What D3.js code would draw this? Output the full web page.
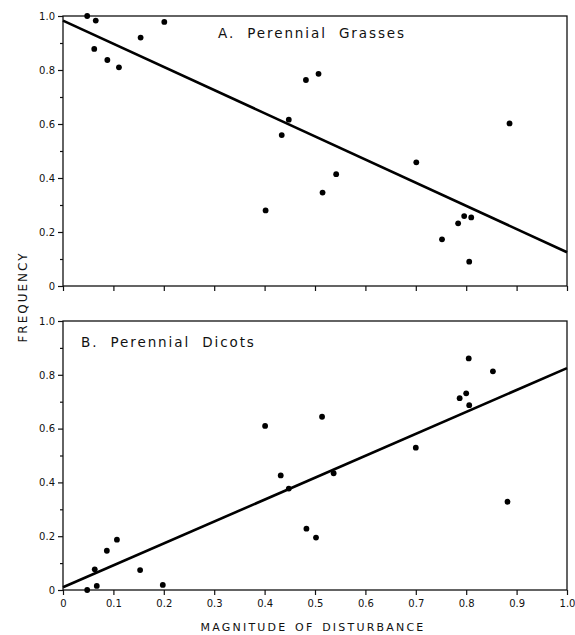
<!DOCTYPE html>
<html>
<head>
<meta charset="utf-8">
<script src="https://cdn.jsdelivr.net/npm/d3@7"></script>
<style>
  body { margin: 0; background: #fff; }
  text { font-family: "DejaVu Sans", sans-serif; fill: #111; }
</style>
</head>
<body>
<div id="chart"></div>
<script>
// magnitude of disturbance (x) and frequency (y)
const grassX = [0.048, 0.065, 0.062, 0.088, 0.111, 0.154, 0.201, 0.402, 0.434, 0.448, 0.482,
                0.507, 0.515, 0.542, 0.701, 0.752, 0.784, 0.796, 0.810, 0.806, 0.886]
const grassY = [1.000, 0.983, 0.878, 0.837, 0.810, 0.920, 0.978, 0.280, 0.559, 0.616, 0.763,
                0.786, 0.346, 0.414, 0.458, 0.173, 0.232, 0.259, 0.254, 0.090, 0.602]
const grassFit = [0.983, 0.125]   // frequency at x=0 and x=1

const dicotX = [0.048, 0.063, 0.067, 0.087, 0.107, 0.153, 0.198, 0.401, 0.432, 0.448, 0.483,
                0.502, 0.514, 0.537, 0.700, 0.787, 0.800, 0.806, 0.805, 0.853, 0.882]
const dicotY = [0.000, 0.077, 0.015, 0.146, 0.187, 0.074, 0.019, 0.610, 0.426, 0.377, 0.228,
                0.195, 0.644, 0.434, 0.529, 0.713, 0.731, 0.687, 0.861, 0.813, 0.328]
const dicotFit = [0.010, 0.825]

const xTicks = [0, 0.1, 0.2, 0.3, 0.4, 0.5, 0.6, 0.7, 0.8, 0.9, 1.0]
const xTickLabels = ["0", "0.1", "0.2", "0.3", "0.4", "0.5", "0.6", "0.7", "0.8", "0.9", "1.0"]
const yTicks = [0, 0.2, 0.4, 0.6, 0.8, 1.0]
const yTickLabels = ["0", "0.2", "0.4", "0.6", "0.8", "1.0"]
const yMinor = [0.1, 0.3, 0.5, 0.7, 0.9]

const panels = [
    {id: "A", title: "A. Perennial Grasses", xs: grassX, ys: grassY, fit: grassFit, top: 16, bottom: 286, titleX: 218, titleY: 38, xLabels: false},
    {id: "B", title: "B. Perennial Dicots", xs: dicotX, ys: dicotY, fit: dicotFit, top: 321, bottom: 590, titleX: 81, titleY: 347, xLabels: true}
]

const svgWidth = 575
const svgHeight = 635
const left = 63
const right = 567

const svg = d3.select("#chart").append("svg").attr("width", svgWidth).attr("height", svgHeight)

const x = d3.scaleLinear().domain([0, 1]).range([left, right])

panels.forEach(function(p) {
    const y = d3.scaleLinear().domain([0, 1]).range([p.bottom, p.top])
    const g = svg.append("g").attr("id", "panel" + p.id)

    // x axis
    const xAxis = d3.axisBottom(x).tickValues(xTicks).tickSize(5).tickPadding(5)
        .tickFormat((d, i) => p.xLabels ? xTickLabels[i] : "")
    g.append("g").attr("transform", `translate(0,${p.bottom})`).call(xAxis)
        .call(a => a.select(".domain").remove())

    // y axis + minor ticks
    const yAxis = d3.axisLeft(y).tickValues(yTicks).tickSize(5).tickPadding(3)
        .tickFormat((d, i) => yTickLabels[i])
    g.append("g").attr("transform", `translate(${left},0)`).call(yAxis)
        .call(a => a.select(".domain").remove())
    g.append("g").attr("transform", `translate(${left},0)`)
        .call(d3.axisLeft(y).tickValues(yMinor).tickSize(3).tickFormat(""))
        .call(a => a.select(".domain").remove())

    g.selectAll(".tick line").attr("stroke", "#111").attr("stroke-width", 1.2)
    g.selectAll(".tick text").style("font-size", "10px").attr("fill", "#111")

    // frame
    g.append("rect")
        .attr("x", left).attr("y", p.top)
        .attr("width", right - left).attr("height", p.bottom - p.top)
        .attr("fill", "none").attr("stroke", "#111").attr("stroke-width", 1.3)

    // regression line
    g.append("line")
        .attr("x1", x(0)).attr("y1", y(p.fit[0]))
        .attr("x2", x(1)).attr("y2", y(p.fit[1]))
        .attr("stroke", "#000").attr("stroke-width", 2.6)

    // points
    const pts = p.xs.map((v, i) => ({x: v, y: p.ys[i]}))
    g.selectAll("circle").data(pts).enter().append("circle")
        .attr("cx", d => x(d.x))
        .attr("cy", d => y(d.y))
        .attr("r", 2.9)
        .attr("fill", "#000")

    g.append("text")
        .attr("x", p.titleX).attr("y", p.titleY)
        .style("font-size", "13.5px")
        .style("letter-spacing", "1.9px")
        .style("word-spacing", "6px")
        .text(p.title)
})

svg.append("text")
    .attr("transform", "translate(27,297) rotate(-90)")
    .attr("text-anchor", "middle")
    .style("font-size", "12px")
    .style("letter-spacing", "2px")
    .text("FREQUENCY")

svg.append("text")
    .attr("x", 313).attr("y", 631)
    .attr("text-anchor", "middle")
    .style("font-size", "11px")
    .style("letter-spacing", "2.2px")
    .style("word-spacing", "2px")
    .text("MAGNITUDE OF DISTURBANCE")
</script>
</body>
</html>
